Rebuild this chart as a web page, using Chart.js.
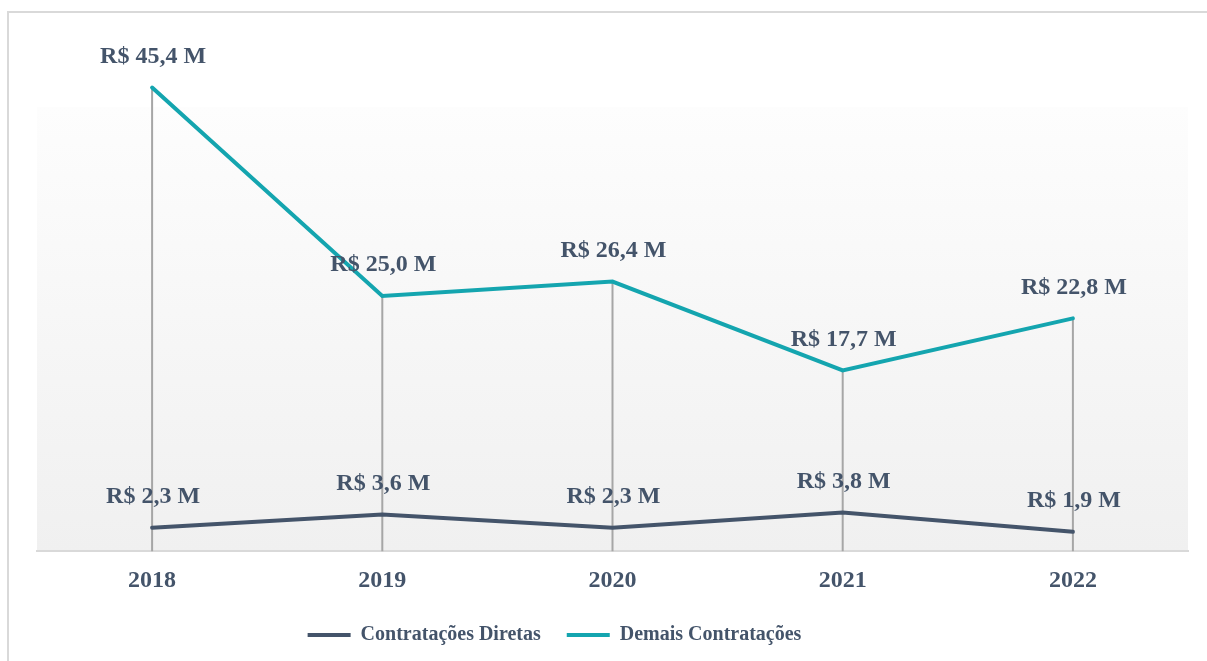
<!DOCTYPE html>
<html>
<head>
<meta charset="utf-8">
<script src="https://cdn.jsdelivr.net/npm/chart.js@4.4.0/dist/chart.umd.min.js"></script>
<style>
  body { margin: 0; background: #fff; overflow: hidden; }
  .frame { position: absolute; left: 7px; top: 11px; width: 1300px; height: 700px; border: 2px solid #d9d9d9; }
  #chart { position: absolute; left: 0; top: 0; }
</style>
</head>
<body>
<div class="frame"></div>
<canvas id="chart" width="1207" height="661"></canvas>
<script>
// data
const categories = ["2018", "2019", "2020", "2021", "2022"];
const diretas = [2.3, 3.6, 2.3, 3.8, 1.9];
const demais = [45.4, 25.0, 26.4, 17.7, 22.8];
const seriesNames = ["Contratações Diretas", "Demais Contratações"];

const textColor = "#44546A";
const serif = "'Liberation Serif', 'Times New Roman', serif";

function fmt(v) {
  return "R$ " + v.toFixed(1).replace(".", ",") + " M";
}

// light gradient behind the plot area
const plotBg = {
  id: "plotBg",
  beforeDraw(chart) {
    const { ctx, chartArea: a } = chart;
    const g = ctx.createLinearGradient(0, a.top, 0, a.bottom);
    g.addColorStop(0, "#fdfdfd");
    g.addColorStop(1, "#f0f0f0");
    ctx.save();
    ctx.fillStyle = g;
    ctx.fillRect(a.left, a.top, a.right - a.left, a.bottom - a.top);
    ctx.restore();
  }
};

// vertical drop lines from the highest point down to the axis
const dropLines = {
  id: "dropLines",
  beforeDatasetsDraw(chart) {
    const { ctx, scales } = chart;
    ctx.save();
    ctx.strokeStyle = "#a6a6a6";
    ctx.lineWidth = 2;
    categories.forEach((c, i) => {
      const x = scales.x.getPixelForValue(i);
      const top = scales.y.getPixelForValue(Math.max(diretas[i], demais[i]));
      ctx.beginPath();
      ctx.moveTo(x, top);
      ctx.lineTo(x, chart.chartArea.bottom);
      ctx.stroke();
    });
    ctx.restore();
  }
};

// value labels above every point
const valueLabels = {
  id: "valueLabels",
  afterDatasetsDraw(chart) {
    const { ctx } = chart;
    ctx.save();
    ctx.fillStyle = textColor;
    ctx.font = "bold 24px " + serif;
    ctx.textAlign = "center";
    ctx.textBaseline = "middle";
    chart.data.datasets.forEach((ds, di) => {
      chart.getDatasetMeta(di).data.forEach((pt, i) => {
        ctx.fillText(fmt(ds.data[i]), pt.x + 1, pt.y - 31);
      });
    });
    ctx.restore();
  }
};

// nudge the legend to where it sits in the original
const legendShift = {
  id: "legendShift",
  afterLayout(chart) {
    const lg = chart.legend;
    const dx = -58, dy = -11;
    lg.left += dx; lg.right += dx;
    lg.top += dy; lg.bottom += dy;
  }
};

const ctx = document.getElementById("chart").getContext("2d");
new Chart(ctx, {
  type: "line",
  data: {
    labels: categories,
    datasets: [
      {
        label: seriesNames[0],
        data: diretas,
        borderColor: "#44546A",
        backgroundColor: "#44546A",
        borderWidth: 4,
        pointRadius: 0,
        tension: 0,
        clip: false,
        borderCapStyle: "round"
      },
      {
        label: seriesNames[1],
        data: demais,
        borderColor: "#14A5AF",
        backgroundColor: "#14A5AF",
        borderWidth: 4,
        pointRadius: 0,
        tension: 0,
        clip: false,
        borderCapStyle: "round"
      }
    ]
  },
  options: {
    responsive: false,
    animation: false,
    devicePixelRatio: 1,
    layout: { padding: { left: 37, right: 19, top: 107, bottom: -5 } },
    scales: {
      x: {
        offset: true,
        grid: { display: false, drawTicks: false },
        border: { display: true, color: "#d9d9d9", width: 2 },
        ticks: {
          color: textColor,
          padding: 15,
          font: { family: serif, size: 24, weight: "bold" }
        }
      },
      y: {
        display: false,
        min: 0,
        max: 43.5
      }
    },
    plugins: {
      tooltip: { enabled: false },
      legend: {
        position: "bottom",
        labels: {
          boxWidth: 43,
          boxHeight: 4,
          padding: 26,
          color: textColor,
          font: { family: serif, size: 20, weight: "bold" },
          generateLabels(chart) {
            return chart.data.datasets.map((ds, i) => ({
              text: ds.label,
              fillStyle: ds.borderColor,
              strokeStyle: ds.borderColor,
              lineWidth: 0,
              fontColor: textColor,
              hidden: false,
              datasetIndex: i
            }));
          }
        }
      }
    }
  },
  plugins: [plotBg, dropLines, valueLabels, legendShift]
});
</script>
</body>
</html>
